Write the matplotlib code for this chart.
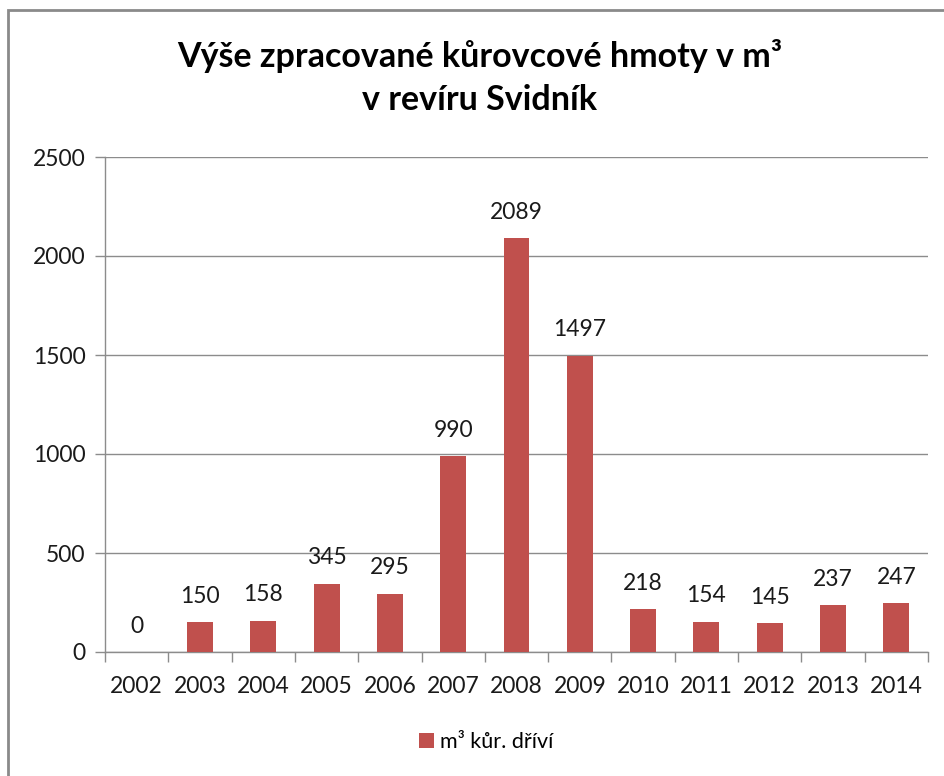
import matplotlib
matplotlib.use("Agg")
import matplotlib.pyplot as plt
from matplotlib.patches import Rectangle
import numpy as np

years = ["2002", "2003", "2004", "2005", "2006", "2007", "2008",
         "2009", "2010", "2011", "2012", "2013", "2014"]
values = [0, 150, 158, 345, 295, 990, 2089, 1497, 218, 154, 145, 237, 247]
yticks = [0, 500, 1000, 1500, 2000, 2500]
title = "Výše zpracované kůrovcové hmoty v m³\nv revíru Svidník"
legend_label = "m³ kůr. dříví"

plt.rcParams['font.family'] = ['Lato', 'DejaVu Sans']

fig = plt.figure(figsize=(9.44, 7.76), dpi=100)
ax = fig.add_axes([105/944, 1-652/776, (928-105)/944, (652-157)/776])

x = np.arange(len(years))
bars = ax.bar(x, values, width=0.41, color="#C0504D", label=legend_label, zorder=3)
for xi, v in zip(x, values):
    ax.annotate(str(v), (xi, v), xytext=(0, 11), textcoords="offset points",
                ha="center", va="bottom", fontsize=16.5, color="#1a1a1a")

ax.set_xlim(-0.5, len(years)-0.5)
ax.set_ylim(0, 2500)
ax.set_yticks(yticks)
ax.set_yticklabels([str(t) for t in yticks], fontsize=16.5, color="#1a1a1a")
ax.yaxis.grid(True, color="#8c8c8c", linewidth=1.0, zorder=0)
ax.set_axisbelow(True)

ax.set_xticks(x)
ax.set_xticklabels(years, fontsize=16.5, color="#1a1a1a")
ax.tick_params(axis="x", length=0, pad=17)
ax.set_xticks(np.arange(-0.5, len(years), 1.0), minor=True)
ax.tick_params(axis="x", which="minor", length=7, color="#8c8c8c", width=1)
ax.tick_params(axis="y", length=7, color="#8c8c8c", width=1, pad=7)

for s in ["top", "right"]:
    ax.spines[s].set_visible(False)
for s in ["left", "bottom"]:
    ax.spines[s].set_color("#8c8c8c")
    ax.spines[s].set_linewidth(1)

fig.text(0.508, 0.90, title, ha="center", va="center", fontsize=24.5,
         fontweight="bold", linespacing=1.45)

ax.legend(loc="center", bbox_to_anchor=(0.463, -0.182), frameon=False,
          fontsize=15.5, handlelength=0.7, handleheight=0.7, handletextpad=0.3)

fig.patches.append(Rectangle((8/944, -0.1), 1.2, 1-10/776+0.1,
                             transform=fig.transFigure, fill=False,
                             edgecolor="#8a8a8a", linewidth=2))

fig.savefig("out.png", dpi=100)
